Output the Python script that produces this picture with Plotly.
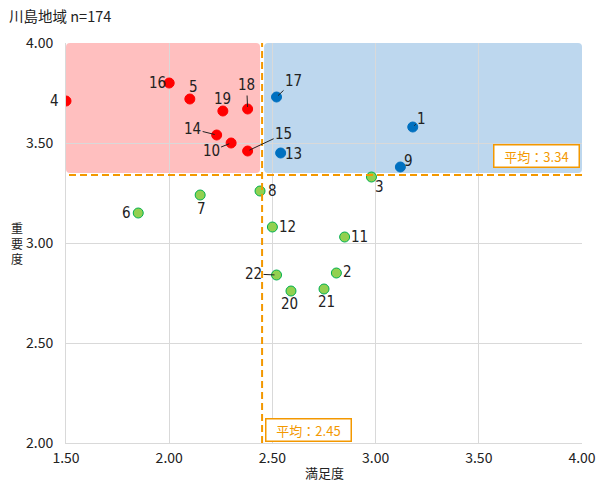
import plotly.graph_objects as go

# 満足度 (x) と 重要度 (y) per item
item_no = ["1", "2", "3", "4", "5", "6", "7", "8", "9", "10", "11",
           "12", "13", "14", "15", "16", "17", "18", "19", "20", "21", "22"]
satisfaction = [3.18, 2.81, 2.98, 1.50, 2.10, 1.85, 2.15, 2.44, 3.12, 2.30, 2.85,
                2.50, 2.54, 2.23, 2.38, 2.00, 2.52, 2.38, 2.26, 2.59, 2.75, 2.52]
importance = [3.58, 2.85, 3.33, 3.71, 3.72, 3.15, 3.24, 3.26, 3.38, 3.50, 3.03,
              3.08, 3.45, 3.54, 3.46, 3.80, 3.73, 3.67, 3.66, 2.76, 2.77, 2.84]

avg_satisfaction = 2.45
avg_importance = 3.34

x_ticks = [1.5, 2.0, 2.5, 3.0, 3.5, 4.0]
y_ticks = [2.0, 2.5, 3.0, 3.5, 4.0]
x_range = [1.5, 4.0]
y_range = [2.0, 4.0]

# label placement: (dx, dy) pixel offset of the label, and whether a leader line is drawn
label_pos = {
    "1": (9, -8, True), "2": (11, -1, False), "3": (8, 10, False), "4": (-12, 0, False),
    "5": (4, -12, False), "6": (-12, 0, False), "7": (1, 14, False), "8": (12, 0, False),
    "9": (8, -6, False), "10": (-20, 8, True), "11": (15, 0, False), "12": (15, 0, False),
    "13": (13, 1, False), "14": (-24, -6, True), "15": (36, -17, True), "16": (-12, 0, False),
    "17": (17, -16, True), "18": (-1, -24, True), "19": (0, -12, False), "20": (-1, 13, False),
    "21": (2, 13, False), "22": (-23, -1, True),
}

RED = "#FF0000"
BLUE = "#0070C0"
GREEN = "#92D050"
ORANGE = "#F39800"


def quadrant_color(x, y):
    if y >= avg_importance:
        return RED if x < avg_satisfaction else BLUE
    return GREEN


colors = [quadrant_color(x, y) for x, y in zip(satisfaction, importance)]
outline = ["#00B050" if c == GREEN else c for c in colors]

fig = go.Figure()
fig.add_trace(go.Scatter(
    x=satisfaction, y=importance, mode="markers",
    marker=dict(size=10, color=colors, line=dict(color=outline, width=1)),
    hoverinfo="text", text=item_no, showlegend=False,
))

# pixel -> data unit conversions for the rounded shading
px_x = (x_range[1] - x_range[0]) / 516
px_y = (y_range[1] - y_range[0]) / 400


def rounded_rect(x0, y0, x1, y1, r=4):
    rx, ry = r * px_x, r * px_y
    return (f"M {x0 + rx},{y0} L {x1 - rx},{y0} Q {x1},{y0} {x1},{y0 + ry} "
            f"L {x1},{y1 - ry} Q {x1},{y1} {x1 - rx},{y1} "
            f"L {x0 + rx},{y1} Q {x0},{y1} {x0},{y1 - ry} "
            f"L {x0},{y0 + ry} Q {x0},{y0} {x0 + rx},{y0} Z")


gap_x = 2 * px_x
gap_y = 2 * px_y
fig.add_shape(type="path", layer="below", line_width=0, fillcolor="#FFBFBF",
              path=rounded_rect(x_range[0], avg_importance + gap_y,
                                avg_satisfaction - gap_x, y_range[1]))
fig.add_shape(type="path", layer="below", line_width=0, fillcolor="#BDD7EE",
              path=rounded_rect(avg_satisfaction + gap_x, avg_importance + gap_y,
                                x_range[1], y_range[1]))

# average lines
fig.add_shape(type="line", x0=x_range[0] - 8 * px_x, x1=x_range[1],
              y0=avg_importance, y1=avg_importance,
              line=dict(color=ORANGE, width=2, dash="7px,4px"))
fig.add_shape(type="line", x0=avg_satisfaction, x1=avg_satisfaction,
              y0=y_range[0], y1=y_range[1],
              line=dict(color=ORANGE, width=2, dash="7px,4px"))

label_font = dict(family="DejaVu Sans Condensed, Noto Sans, sans-serif", size=15, color="#222222")
for name, x, y in zip(item_no, satisfaction, importance):
    dx, dy, leader = label_pos[name]
    if leader:
        fig.add_annotation(x=x, y=y, text=name, showarrow=True, ax=dx, ay=dy,
                           arrowhead=0, arrowwidth=1, arrowcolor="#222222",
                           standoff=2, font=label_font)
    else:
        fig.add_annotation(x=x, y=y, text=name, showarrow=False,
                           xshift=dx, yshift=-dy, font=label_font)

avg_font = dict(family="Noto Sans CJK JP, sans-serif", size=13, color=ORANGE)
fig.add_annotation(x=x_range[1], y=avg_importance, text=f"平均：{avg_importance:.2f}",
                   showarrow=False, xanchor="right", yanchor="bottom", xshift=-2, yshift=7,
                   font=avg_font, bgcolor="white", bordercolor=ORANGE, borderwidth=1.5,
                   borderpad=2, width=80, height=17)
fig.add_annotation(x=avg_satisfaction, y=y_range[0], text=f"平均：{avg_satisfaction:.2f}",
                   showarrow=False, xanchor="left", yanchor="bottom", xshift=3, yshift=1,
                   font=avg_font, bgcolor="white", bordercolor=ORANGE, borderwidth=1.5,
                   borderpad=2, width=80, height=17)

# titles
fig.add_annotation(xref="paper", yref="paper", x=-0.114, y=1.0, yshift=28,
                   text="川島地域 n=174", showarrow=False, xanchor="left", yanchor="middle",
                   font=dict(family="Noto Sans CJK JP, sans-serif", size=14.5, color="#222222"))
fig.add_annotation(xref="paper", yref="paper", x=-0.095, y=0.5, yshift=0,
                   text="重<br>要<br>度", showarrow=False, xanchor="center", yanchor="middle",
                   font=dict(family="Noto Sans CJK JP, sans-serif", size=12, color="#222222"))
fig.add_annotation(xref="paper", yref="paper", x=0.5, y=0, yshift=-41,
                   text="満足度", showarrow=False, xanchor="center", yanchor="bottom",
                   font=dict(family="Noto Sans CJK JP, sans-serif", size=13, color="#222222"))

tick_font = dict(family="Noto Sans CJK JP, sans-serif", size=14, color="#222222")
fig.update_xaxes(range=x_range, tickvals=x_ticks, ticktext=[f"{v:.2f}" for v in x_ticks],
                 showgrid=True, gridcolor="#D9D9D9", gridwidth=1, zeroline=False,
                 showline=True, linecolor="#D9D9D9", linewidth=1, tickfont=tick_font,
                 ticks="", ticklabelstandoff=2, automargin=False)
fig.update_yaxes(range=y_range, tickvals=y_ticks, ticktext=[f"{v:.2f}" for v in y_ticks],
                 showgrid=True, gridcolor="#D9D9D9", gridwidth=1, zeroline=False,
                 showline=True, linecolor="#D9D9D9", linewidth=1, tickfont=tick_font,
                 ticks="", ticklabelstandoff=9, automargin=False)

fig.update_layout(
    width=598, height=484,
    margin=dict(l=66, r=16, t=43, b=41),
    plot_bgcolor="white", paper_bgcolor="white",
)

fig.write_html("out.html")
